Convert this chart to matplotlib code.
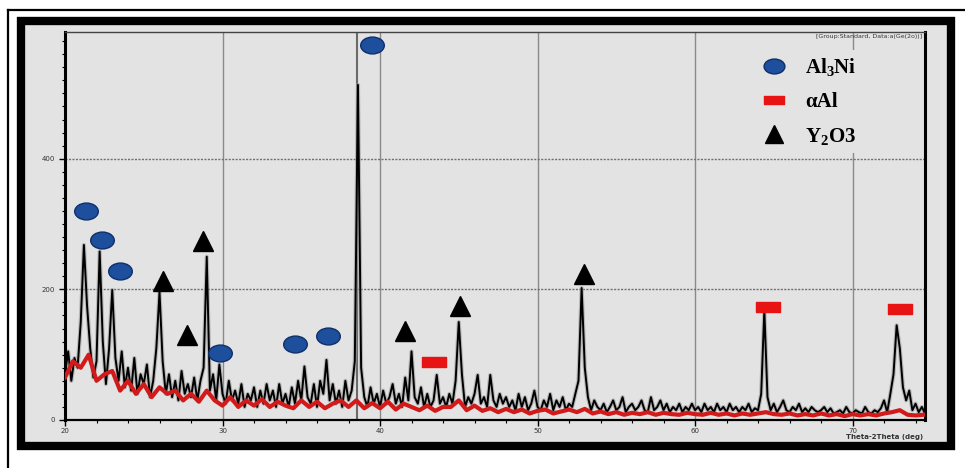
import matplotlib.pyplot as plt
import numpy as np
from matplotlib.path import Path
from matplotlib.transforms import Affine2D
from matplotlib.patches import Rectangle
from matplotlib.lines import Line2D

plt.rcParams['mathtext.fontset'] = 'custom'
plt.rcParams['mathtext.rm'] = 'Liberation Serif:bold'
plt.rcParams['mathtext.it'] = 'Liberation Serif:bold'
plt.rcParams['mathtext.bf'] = 'Liberation Serif:bold'

# raw scan, 0.2 deg step starting at 20 deg (one row per degree)
start_2theta = 20.0
step_2theta = 0.2
counts = [
    70, 105, 60, 95, 80,      # 20
    150, 268, 175, 110, 65,   # 21
    90, 258, 120, 55, 110,    # 22
    199, 95, 60, 105, 50,     # 23
    80, 45, 95, 40, 70,       # 24
    55, 85, 35, 60, 110,      # 25
    196, 90, 40, 70, 35,      # 26
    60, 30, 75, 40, 55,       # 27
    35, 65, 30, 60, 80,       # 28
    250, 45, 70, 30, 85,      # 29
    40, 25, 60, 30, 45,       # 30
    25, 55, 20, 40, 30,       # 31
    50, 20, 45, 25, 55,       # 32
    30, 45, 20, 55, 25,       # 33
    40, 20, 50, 25, 60,       # 34
    30, 82, 35, 25, 55,       # 35
    20, 60, 40, 92, 30,       # 36
    55, 25, 45, 20, 60,       # 37
    30, 45, 90, 513, 80,      # 38
    35, 20, 50, 25, 40,       # 39
    20, 45, 25, 35, 55,       # 40
    25, 40, 20, 65, 30,       # 41
    105, 35, 25, 50, 20,      # 42
    40, 20, 30, 69, 25,       # 43
    35, 20, 40, 25, 60,       # 44
    150, 70, 20, 35, 25,      # 45
    40, 69, 25, 35, 20,       # 46
    69, 30, 20, 40, 25,       # 47
    35, 20, 30, 15, 40,       # 48
    20, 35, 15, 25, 45,       # 49
    20, 15, 30, 20, 40,       # 50
    15, 30, 20, 35, 15,       # 51
    25, 20, 40, 60, 202,      # 52
    80, 35, 15, 30, 20,       # 53
    15, 25, 12, 20, 30,       # 54
    15, 20, 35, 12, 20,       # 55
    25, 15, 20, 30, 15,       # 56
    12, 35, 15, 20, 30,       # 57
    15, 25, 12, 20, 15,       # 58
    25, 12, 20, 15, 25,       # 59
    15, 20, 12, 25, 15,       # 60
    20, 12, 25, 15, 20,       # 61
    12, 25, 15, 20, 12,       # 62
    20, 15, 25, 12, 18,       # 63
    15, 40, 168, 35, 15,      # 64
    25, 12, 20, 30, 15,       # 65
    12, 20, 15, 25, 12,       # 66
    18, 12, 20, 15, 12,       # 67
    15, 20, 12, 18, 10,       # 68
    12, 15, 10, 20, 12,       # 69
    10, 15, 12, 10, 20,       # 70
    12, 10, 15, 12, 18,       # 71
    30, 12, 40, 70, 145,      # 72
    110, 50, 30, 45, 15,      # 73
    25, 12, 20, 10,           # 74
]

# red trace, 0.5 deg step starting at 20 deg
red_step = 0.5
red_counts = [
    65, 90, 80, 100, 60, 70, 75, 45, 60, 40,
    55, 35, 50, 40, 45, 30, 40, 28, 45, 30,
    22, 35, 20, 30, 22, 32, 20, 28, 22, 18,
    30, 20, 28, 18, 25, 30, 20, 30, 18, 26,
    18, 28, 16, 25, 20, 15, 22, 14, 20, 20,
    30, 15, 22, 14, 18, 12, 17, 12, 16, 10,
    14, 16, 10, 13, 16, 12, 17, 10, 13, 9,
    12, 8, 11, 9, 12, 8, 11, 9, 8, 11,
    9, 8, 11, 8, 10, 7, 10, 8, 10, 12,
    9, 8, 10, 7, 9, 7, 10, 7, 9, 6,
    9, 7, 9, 7, 10, 12, 15, 8, 7, 8,
]

# phase identification markers
al3ni_x = [21.33, 22.35, 23.49, 29.84, 34.60, 36.70, 39.49]
al3ni_y = [320, 276, 228, 103, 116, 129, 574]
alpha_al_x = [43.43, 64.63, 73.02]
alpha_al_y = [89, 173, 170]
y2o3_x = [26.22, 27.75, 28.76, 41.59, 45.08, 52.95]
y2o3_y = [213, 130, 274, 136, 175, 224]

ref_stick_x = [38.55]

x = start_2theta + step_2theta * np.arange(len(counts))
xr = start_2theta + red_step * np.arange(len(red_counts))

ellipse = Path.unit_circle().transformed(Affine2D().scale(1.4, 1.0))
bar = Path([(-1, -0.45), (1, -0.45), (1, 0.45), (-1, 0.45), (-1, -0.45)],
           [Path.MOVETO, Path.LINETO, Path.LINETO, Path.LINETO, Path.CLOSEPOLY])

bg = '#e3e3e3'
fig = plt.figure(figsize=(9.65, 4.68), dpi=100)

# photo frame
fig.add_artist(Line2D([8/965, 1], [1 - 10/468] * 2, color='black', lw=1.6, zorder=-5))
fig.add_artist(Line2D([8/965] * 2, [0, 1 - 10/468], color='black', lw=1.6, zorder=-5))
fig.add_artist(Rectangle((21/965, 1 - 446/468), 930/965, 425/468, facecolor=bg,
                         edgecolor='black', lw=6, zorder=-5))

ax = fig.add_axes([65/965, 48/468, 860/965, 388/468])
ax.set_facecolor(bg)

for xv in [30, 40, 50, 60, 70]:
    ax.axvline(xv, color='#8a8a8a', lw=1.0, zorder=1)
for yv in [200, 400]:
    ax.axhline(yv, color='#707070', lw=1.0, ls=(0, (1.5, 1)), zorder=1)

ax.vlines(ref_stick_x, 0, 1, transform=ax.get_xaxis_transform(), color='#6a6a6a', lw=1.5, zorder=2)

ax.plot(x, counts, color='#9a9a9a', lw=3, alpha=0.6, zorder=2)
ax.plot(x, counts, color='black', lw=1.4, zorder=3)
ax.plot(xr, red_counts, color='#d21a1a', lw=3, zorder=4)

ax.plot(al3ni_x, al3ni_y, ls='none', marker=ellipse, ms=17, mfc='#1d4f9c', mec='#0e2f6a', mew=1, zorder=5)
ax.plot(alpha_al_x, alpha_al_y, ls='none', marker=bar, ms=17, mfc='#e81414', mec='#e81414', zorder=5)
ax.plot(y2o3_x, y2o3_y, ls='none', marker='^', ms=15, color='black', zorder=5)

ax.set_xlim(20, 74.6)
ax.set_ylim(0, 594)

for side in ['left', 'right']:
    ax.spines[side].set_linewidth(2.2)
ax.spines['bottom'].set_linewidth(1.6)
ax.spines['top'].set_linewidth(1.0)
ax.spines['top'].set_color('#444444')

ax.set_xticks([20, 30, 40, 50, 60, 70])
ax.set_yticks([0, 200, 400])
ax.set_xticks(np.arange(20, 75, 2), minor=True)
ax.set_yticks(np.arange(0, 594, 20), minor=True)
ax.tick_params(axis='both', which='major', labelsize=5, labelcolor='#333333', length=4, width=1)
ax.tick_params(axis='both', which='minor', length=2, width=0.8)
ax.tick_params(axis='x', pad=2)

ax.text(0.998, -0.035, 'Theta-2Theta (deg)', transform=ax.transAxes, ha='right', va='top',
        fontsize=5, color='#333333', fontweight='bold')
ax.text(0.997, 0.995, '[Group:Standard, Data:a(Ge(2o))]', transform=ax.transAxes, ha='right', va='top',
        fontsize=4.5, color='#333333')

handles = [
    Line2D([], [], ls='none', marker=ellipse, ms=15, mfc='#1d4f9c', mec='#0e2f6a'),
    Line2D([], [], ls='none', marker=bar, ms=14, mfc='#e81414', mec='#e81414'),
    Line2D([], [], ls='none', marker='^', ms=13, color='black'),
]
labels = ['Al$_3$Ni', '\u03b1Al', 'Y$_2$O3']
leg = ax.legend(handles, labels, loc='upper right', bbox_to_anchor=(0.94, 0.98),
                frameon=True, facecolor=bg, edgecolor='none', framealpha=1,
                labelspacing=0.65, handletextpad=0.5, borderpad=0.3,
                prop={'family': 'Liberation Serif', 'weight': 'bold', 'size': 15})
leg.set_zorder(6)

plt.savefig('out.png', dpi=100)
